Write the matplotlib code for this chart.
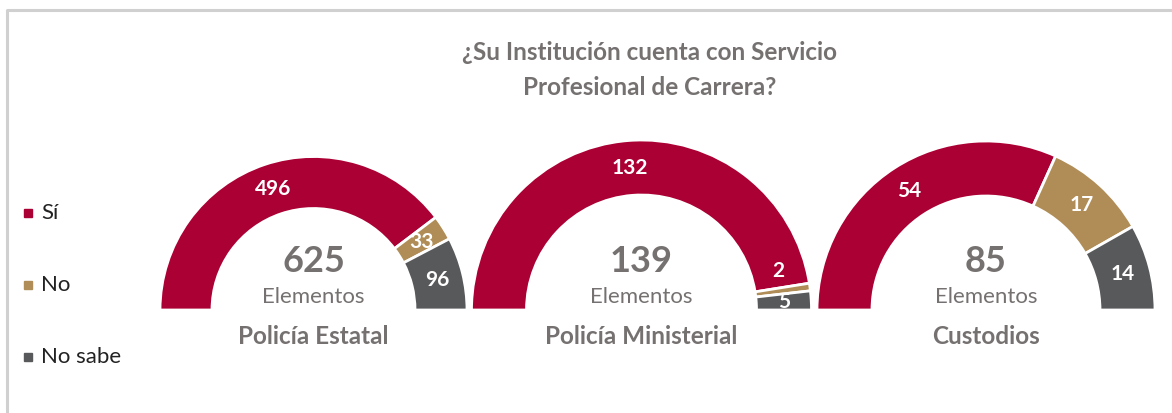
import numpy as np
import matplotlib.pyplot as plt
from matplotlib.patches import Rectangle

plt.rcParams['font.family'] = ['Lato', 'DejaVu Sans']

# data
groups = ["Policía Estatal", "Policía Ministerial", "Custodios"]
answers = ["Sí", "No", "No sabe"]
si = [496, 132, 54]
no = [33, 2, 17]
no_sabe = [96, 5, 14]
colors = ["#AB0033", "#B08D57", "#58595B"]
gray = "#767171"

W, H = 1172, 413
fig = plt.figure(figsize=(W / 100, H / 100), dpi=100)
ax = fig.add_axes([0, 0, 1, 1])

# layout in pixels (y measured from top)
centers = [(313.5, 310), (641.5, 310), (986, 310)]
radii = [153.5, 170, 169]
widths = [52, 55, 55]
label_nudge = [[0, 0, 0], [0, 8, 0], [0, 0, 0]]  # degrees, manual label shifts

for i, g in enumerate(groups):
    vals = [si[i], no[i], no_sabe[i]]
    total = sum(vals)
    cx, cy = centers[i]
    cy = H - cy
    wedges, _ = ax.pie(vals + [total], colors=colors + ["none"], startangle=180,
                       counterclock=False, radius=radii[i], center=(cx, cy),
                       wedgeprops=dict(width=widths[i], edgecolor="white", linewidth=2))
    wedges[-1].set_edgecolor("none")
    rmid = radii[i] - widths[i] / 2
    for j, w in enumerate(wedges[:3]):
        ang = np.deg2rad((w.theta1 + w.theta2) / 2 + label_nudge[i][j])
        ax.text(cx + rmid * np.cos(ang), cy + rmid * np.sin(ang), str(vals[j]),
                color="white", fontsize=15, fontweight="bold", ha="center", va="center")
    ax.text(cx, cy + 49, str(total), color=gray, fontsize=26, fontweight="bold",
            ha="center", va="center")
    ax.text(cx, cy + 13, "Elementos", color=gray, fontsize=16, ha="center", va="center")
    ax.text(cx, cy - 27, g, color=gray, fontsize=17.5, fontweight="bold",
            ha="center", va="center")

ax.set_xlim(0, W)
ax.set_ylim(0, H)
ax.set_aspect("auto")
ax.axis("off")

# title
ax.text(650, H - 70, "¿Su Institución cuenta con Servicio\nProfesional de Carrera?",
        color=gray, fontsize=17.5, fontweight="bold", ha="center", va="center",
        linespacing=1.6)

# legend
for k, (lab, col) in enumerate(zip(answers, colors)):
    y = H - (213 + 72 * k)
    ax.add_patch(Rectangle((24, y - 4), 8, 8, color=col))
    ax.text(41, y, lab, fontsize=16, color="#222222", ha="left", va="center")

# border
ax.plot([7, 7, W + 5], [-5, H - 9.5, H - 9.5], color="#D0D0D0", lw=2.2, clip_on=False)

fig.savefig("out.png", dpi=100)
